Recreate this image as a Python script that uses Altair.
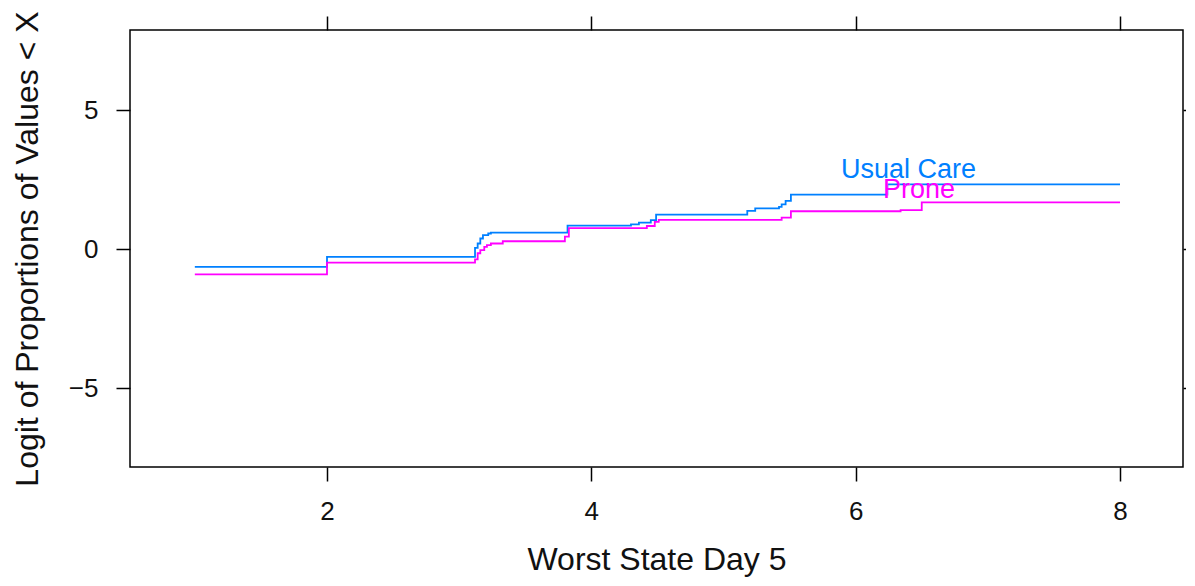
import altair as alt
import pandas as pd

# Usual Care step curve (x = worst state, y = logit of proportion)
uc_x = [1.0, 2.0, 3.12, 3.14, 3.16, 3.18, 3.22, 3.24, 3.82, 4.30, 4.36, 4.45, 4.49,
        5.18, 5.24, 5.42, 5.44, 5.47, 5.51, 6.24, 8.0]
uc_y = [-0.64, -0.28, 0.04, 0.20, 0.38, 0.50, 0.56, 0.59, 0.84, 0.89, 0.95, 1.04, 1.24,
        1.37, 1.46, 1.52, 1.61, 1.73, 1.96, 2.33, 2.33]

# Prone step curve
pr_x = [1.0, 2.0, 3.12, 3.14, 3.16, 3.19, 3.21, 3.24, 3.33, 3.80, 3.83, 4.42, 4.48,
        4.51, 5.44, 5.51, 6.34, 6.50, 8.0]
pr_y = [-0.91, -0.49, -0.37, -0.15, -0.04, 0.08, 0.14, 0.20, 0.28, 0.45, 0.75, 0.83, 0.98,
        1.05, 1.13, 1.36, 1.40, 1.68, 1.68]

groups = ["Usual Care", "Prone"]
colors = ["#0080ff", "#ff00ff"]

# group label anchors (data coordinates)
label_x = [6.40, 6.48]
label_y = [2.55, 1.83]

x_ticks = [2, 4, 6, 8]
y_ticks = [-5, 0, 5]

rows = []
for i, (xv, yv) in enumerate(zip(uc_x, uc_y)):
    rows.append({"x": xv, "y": yv, "group": groups[0], "order": i})
for i, (xv, yv) in enumerate(zip(pr_x, pr_y)):
    rows.append({"x": xv, "y": yv, "group": groups[1], "order": i})
df = pd.DataFrame(rows)

labels = pd.DataFrame({"x": label_x, "y": label_y, "group": groups})

xscale = alt.Scale(domain=[0.5095, 8.4767], nice=False, zero=False)
yscale = alt.Scale(domain=[-7.84, 7.88], nice=False, zero=False)
cscale = alt.Scale(domain=groups, range=colors)

FONT = "Liberation Sans"

lines = alt.Chart(df).mark_line(interpolate="step-after", strokeWidth=1.8, clip=True).encode(
    x=alt.X("x:Q", scale=xscale,
            axis=alt.Axis(orient="bottom", values=x_ticks, title="Worst State Day 5",
                          grid=False, domain=False, tickSize=14, labelPadding=17,
                          titleX=526.5, titleY=102, titleBaseline="alphabetic",
                          titleAlign="center")),
    y=alt.Y("y:Q", scale=yscale,
            axis=alt.Axis(orient="left", values=y_ticks,
                          title="Logit of Proportions of Values < X",
                          grid=False, domain=False, tickSize=14, labelPadding=18,
                          titleX=-93, titleY=218.5, titleBaseline="alphabetic",
                          titleAlign="center", titleAngle=270)),
    color=alt.Color("group:N", scale=cscale, legend=None),
    order="order:Q",
)

texts = alt.Chart(labels).mark_text(font=FONT, fontSize=27, align="center",
                                     baseline="alphabetic").encode(
    x=alt.X("x:Q", scale=xscale,
            axis=alt.Axis(orient="top", values=x_ticks, labels=False, title=None,
                          grid=False, domain=False, tickSize=14)),
    y=alt.Y("y:Q", scale=yscale,
            axis=alt.Axis(orient="right", values=y_ticks, labels=False, title=None,
                          grid=False, domain=False, tickSize=14)),
    color=alt.Color("group:N", scale=cscale, legend=None),
    text="group:N",
)

chart = alt.layer(lines, texts).resolve_axis(x="independent", y="independent").properties(
    width=1053, height=437,
    background="white",
    autosize=alt.AutoSizeParams(type="none"),
    padding={"left": 122, "top": 22, "right": 3, "bottom": 111},
).configure_view(
    stroke="black", strokeWidth=1.5
).configure_axis(
    labelFont=FONT, titleFont=FONT, labelFontSize=26, titleFontSize=32,
    labelColor="#111111", titleColor="#111111", tickColor="black", tickWidth=1.5,
    titleFontWeight="normal"
)

chart.save("out.html", embed_options={"renderer": "svg", "actions": False})
